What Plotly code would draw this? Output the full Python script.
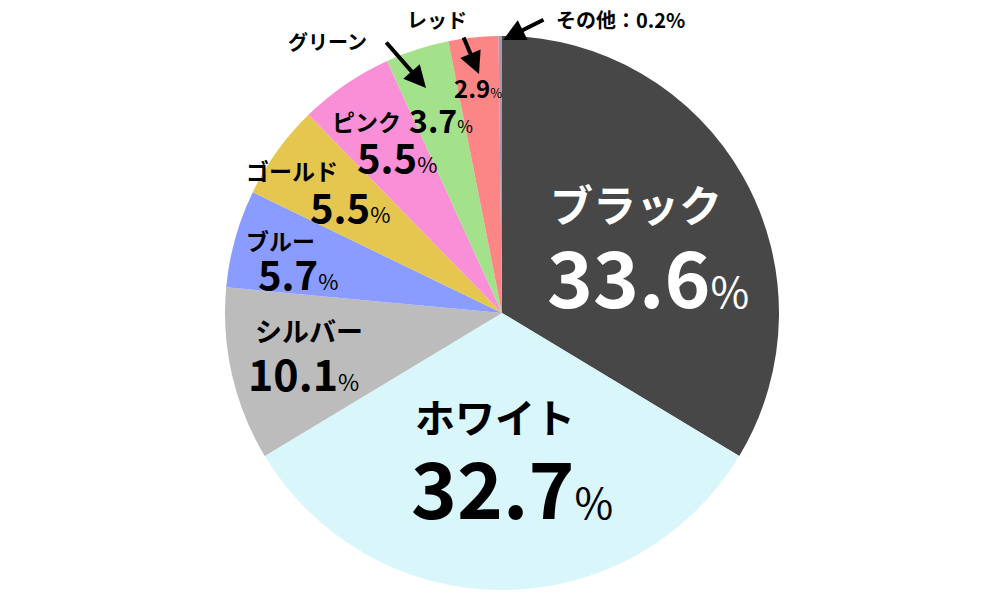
import plotly.graph_objects as go

labels = ["ブラック", "ホワイト", "シルバー", "ブルー", "ゴールド", "ピンク", "グリーン", "レッド", "その他"]
values = [33.6, 32.7, 10.1, 5.7, 5.5, 5.5, 3.7, 2.9, 0.2]
colors = ["#474747", "#d9f6fb", "#bcbcbc", "#8a9cff", "#e5c64f", "#f98fd6", "#a3e28a", "#fc8585", "#a898b2"]

W, H = 1000, 600
OFF = 0  # page body margin removed via post_script
FONT = "Noto Sans CJK JP"

# label placement (pixel centres on screen): name pos, name size, value pos, value size, colour
place = {
    "ブラック": ((636, 203), 43, (648, 274), 78, "white"),
    "ホワイト": ((495, 416), 40, (512, 485), 78, "black"),
    "シルバー": ((309, 330), 27, (303, 372), 43, "black"),
    "ブルー": ((280, 240), 23, (298, 273), 40, "black"),
    "ゴールド": ((292, 170), 23, (350, 206), 40, "black"),
    "ピンク": ((366, 121), 23, (397, 156), 40, "black"),
    "グリーン": ((327, 41), 20, (441, 119), 32, "black"),
    "レッド": ((437, 20), 20, (478, 87), 24, "black"),
}

def px(x, y):
    return (x - OFF) / W, 1 - (y - OFF) / H

x0, _ = px(225, 0)
x1, _ = px(779, 0)
_, y0 = px(0, 590)
_, y1 = px(0, 36)

fig = go.Figure(go.Pie(
    labels=labels, values=values, sort=False, direction="clockwise", rotation=0,
    marker=dict(colors=colors, line=dict(width=0)),
    textinfo="none", hoverinfo="label+percent", showlegend=False,
    domain=dict(x=[x0, x1], y=[y0, y1]),
))

base = dict(xref="paper", yref="paper", xanchor="center", yanchor="middle", borderpad=0)
ann = []
for lab, val in zip(labels, values):
    if lab in place:
        (nx, ny), ns, (vx, vy), vs, col = place[lab]
        x, y = px(nx, ny)
        ann.append(dict(base, x=x, y=y, showarrow=False,
                        text=f"<b>{lab}</b>", font=dict(family=FONT, size=ns, color=col)))
        x, y = px(vx, vy)
        ann.append(dict(base, x=x, y=y, showarrow=False,
                        text=f"<b>{val}</b><span style='font-size:{int(vs*0.55)}px'>%</span>",
                        font=dict(family=FONT, size=vs, color=col)))
    else:
        x, y = px(620, 20)
        ann.append(dict(base, x=x, y=y, showarrow=False,
                        text=f"<b>{lab}：{val}%</b>", font=dict(family=FONT, size=20, color="black")))

# arrows (head position, tail offset in px)
arrows = [((426, 88), (-41, -47)), ((479, 74), (-16, -38)), ((503, 40), (42, -21))]
for (hx, hy), (ax, ay) in arrows:
    x, y = px(hx, hy)
    ann.append(dict(x=x, y=y, xref="paper", yref="paper", text="", showarrow=True,
                    ax=ax, ay=ay, arrowhead=2, arrowsize=1.1, arrowwidth=4, arrowcolor="black"))

fig.update_layout(width=W, height=H, margin=dict(l=0, r=0, t=0, b=0),
                  paper_bgcolor="white", plot_bgcolor="white", annotations=ann)
fig.write_html("out.html", config={"displayModeBar": False},
               post_script="document.body.style.margin='0';")
